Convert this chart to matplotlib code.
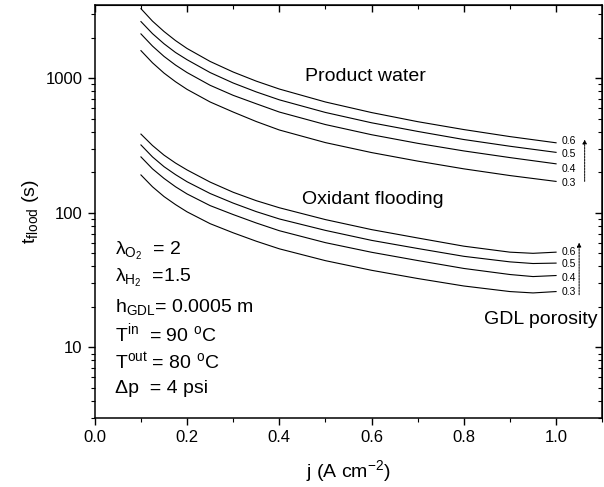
import numpy as np
import matplotlib
matplotlib.use("Agg")
import matplotlib.pyplot as plt
from matplotlib.ticker import MultipleLocator, LogLocator, NullFormatter

plt.rcParams['font.family'] = ['Liberation Sans', 'DejaVu Sans']
plt.rcParams['mathtext.fontset'] = 'custom'
plt.rcParams['mathtext.rm'] = 'Liberation Sans'
plt.rcParams['mathtext.it'] = 'Liberation Sans:italic'
plt.rcParams['mathtext.bf'] = 'Liberation Sans:bold'

# current density, A/cm2
j = [0.1, 0.125, 0.15, 0.175, 0.2, 0.25, 0.3, 0.35, 0.4, 0.5, 0.6, 0.7, 0.8, 0.9, 1.0]
j_ox = [0.1, 0.125, 0.15, 0.175, 0.2, 0.25, 0.3, 0.35, 0.4, 0.5, 0.6, 0.7, 0.8, 0.9, 0.95, 1.0]

porosity = ['0.6', '0.5', '0.4', '0.3']

# time to flood from product water, s (one list per GDL porosity)
water_06 = [3280, 2650, 2220, 1900, 1660, 1330, 1110, 950, 830, 665, 555, 475, 415, 368, 331]
water_05 = [2630, 2140, 1800, 1550, 1370, 1100, 920, 790, 690, 556, 466, 402, 350, 312, 281]
water_04 = [2130, 1730, 1450, 1250, 1100, 885, 745, 645, 560, 452, 380, 328, 288, 257, 231]
water_03 = [1600, 1300, 1090, 940, 825, 665, 560, 476, 412, 332, 280, 242, 212, 189, 171]

# time to flood from oxidant side, s
ox_06 = [384, 316, 268, 234, 208, 169, 142, 123, 109, 89, 75, 65, 56.5, 51, 50, 51]
ox_05 = [319, 260, 220, 192, 170, 139, 118, 102, 90, 74, 62.4, 54.3, 47.5, 43.2, 42, 42.3]
ox_04 = [260, 212, 180, 156, 138, 113, 97, 84, 73.6, 60, 50.9, 44.2, 38.6, 34.8, 33.6, 34.2]
ox_03 = [191, 156, 132, 115, 101.6, 83, 71, 61.5, 54, 44.1, 37.4, 32.5, 28.6, 26, 25.4, 26]

water = [water_06, water_05, water_04, water_03]
oxidant = [ox_06, ox_05, ox_04, ox_03]

# small vertical nudges (points) so the end labels don't collide
water_nudge = [1, -1, -4, -1]
ox_nudge = [0, -0.5, -1.5, -0.5]

fig = plt.figure(figsize=(6.04, 4.87), dpi=100)
ax = fig.add_axes([0.157, 0.142, 0.84, 0.848])

for w in water:
    ax.plot(j, w, color='black', lw=0.8)
for o in oxidant:
    ax.plot(j_ox, o, color='black', lw=0.8)

# porosity labels at the end of each curve
for lab, w, dy in zip(porosity, water, water_nudge):
    ax.annotate(lab, (1.012, w[-1]), xytext=(0, dy), textcoords='offset points',
                fontsize=7.5, ha='left', va='center')
for lab, o, dy in zip(porosity, oxidant, ox_nudge):
    ax.annotate(lab, (1.012, o[-1]), xytext=(0, dy), textcoords='offset points',
                fontsize=7.5, ha='left', va='center')

arrow = dict(arrowstyle='-|>', lw=0.7, linestyle=(0, (2, 1)), color='black',
             mutation_scale=6, shrinkA=0, shrinkB=0)
ax.annotate('', xy=(1.062, 350), xytext=(1.062, 171), arrowprops=arrow)
ax.annotate('', xy=(1.05, 60), xytext=(1.05, 24.6), arrowprops=arrow)

ax.text(0.455, 1035, 'Product water', fontsize=14, ha='left', va='center')
ax.text(0.45, 126, 'Oxidant flooding', fontsize=14, ha='left', va='center')
ax.text(0.844, 16, 'GDL porosity', fontsize=14, ha='left', va='center')

params = [r'λ$_{\mathrm{O}_2}$  = 2',
          r'λ$_{\mathrm{H}_2}$  =1.5',
          r'h$_{\mathrm{GDL}}$= 0.0005 m',
          r'T$^{\mathrm{in}}$  = 90 $^{\mathrm{o}}$C',
          r'T$^{\mathrm{out}}$ = 80 $^{\mathrm{o}}$C',
          r'Δp  = 4 psi']
ys = [0.395, 0.328, 0.257, 0.186, 0.118, 0.060]
for s, y in zip(params, ys):
    ax.text(0.04, y, s, fontsize=14, ha='left', va='baseline', transform=ax.transAxes)

ax.set_yscale('log')
ax.set_xlim(0, 1.1)
ax.set_ylim(3, 3500)

ax.set_xticks([0.0, 0.2, 0.4, 0.6, 0.8, 1.0])
ax.set_xticklabels(['0.0', '0.2', '0.4', '0.6', '0.8', '1.0'])
ax.xaxis.set_minor_locator(MultipleLocator(0.1))
ax.set_yticks([10, 100, 1000])
ax.set_yticklabels(['10', '100', '1000'])
ax.yaxis.set_minor_locator(LogLocator(base=10, subs=np.arange(2, 10)))
ax.yaxis.set_minor_formatter(NullFormatter())

ax.tick_params(which='major', direction='out', length=5, width=1, labelsize=12, pad=4)
ax.tick_params(which='minor', direction='out', length=3, width=0.8)
for sp in ax.spines.values():
    sp.set_linewidth(1.1)

# mirrored ticks on top and right, pointing inward
top = ax.secondary_xaxis('top')
top.set_xticks([0.0, 0.2, 0.4, 0.6, 0.8, 1.0])
top.xaxis.set_minor_locator(MultipleLocator(0.1))
top.tick_params(which='major', direction='in', length=5, width=1, labeltop=False)
top.tick_params(which='minor', direction='in', length=3, width=0.8)

right = ax.secondary_yaxis('right')
right.set_yticks([10, 100, 1000])
right.yaxis.set_minor_locator(LogLocator(base=10, subs=np.arange(2, 10)))
right.yaxis.set_minor_formatter(NullFormatter())
right.tick_params(which='major', direction='in', length=5, width=1, labelright=False)
right.tick_params(which='minor', direction='in', length=3, width=0.8)

ax.set_xlabel(r'j (A cm$^{-2}$)', fontsize=14, labelpad=9)
ax.set_ylabel(r't$_{\mathrm{flood}}$ (s)', fontsize=14, labelpad=3)

fig.savefig('out.png', dpi=100)
